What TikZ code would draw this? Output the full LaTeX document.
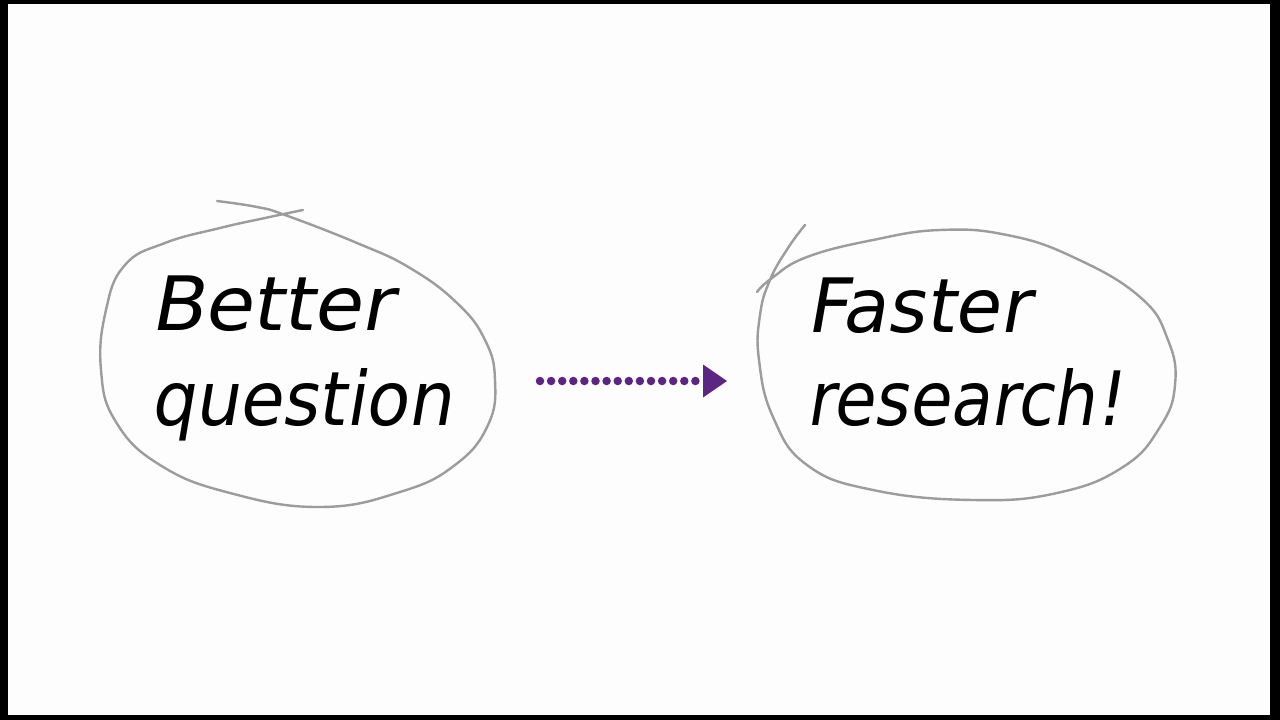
\documentclass[tikz,border=0pt]{standalone}
\usepackage{fontspec}
\usetikzlibrary{arrows.meta}
\newfontfamily\hand[FakeSlant=0.18]{DejaVu Sans}
\definecolor{bgc}{HTML}{FDFDFD}
\definecolor{loopc}{HTML}{9C9C9C}
\definecolor{arrc}{HTML}{5C2483}
\tikzset{
  loopline/.style={draw=loopc, line width=2.4pt, line cap=round, line join=round},
  handtext/.style={anchor=base west, inner sep=0pt, font=\hand\fontsize{75}{80}\selectfont},
  dotarrow/.style={draw=arrc, line width=8.5pt, line cap=round, dash pattern=on 0pt off 11.1pt,
    -{Triangle[length=24pt,width=33pt,fill=arrc,line width=0pt]}}
}
\begin{document}
\begin{tikzpicture}[x=1pt,y=-1pt]
\useasboundingbox (0,0) rectangle (1280,720);
\fill[black] (0,0) rectangle (1280,720);
\fill[bgc] (8,4) rectangle (1270,715);
% left loop
\draw[loopline] plot[smooth, tension=0.75] coordinates {(217,201) (257,207) (285,215) (357,243) (410,268) (457,303) (485,340) (495,380) (488,425) (455,465) (400,492) (320,507) (230,493) (160,465) (116,422) (101,370) (106,310) (125,265) (165,243) (220,228) (265,218) (303,210)};
% right loop
\draw[loopline] plot[smooth, tension=0.75] coordinates {(805,225) (788,248) (770,280) (760,315) (759,360) (773,417) (807,465) (873,490) (973,500) (1057,493) (1123,467) (1160,427) (1175,385) (1168,340) (1140,297) (1073,257) (1007,235) (940,230) (873,240) (807,257) (772,278) (757,292)};
% texts
\node[handtext] (better) at (150,330) {\scalebox{1.04}[1]{Better}};
\node[handtext] (question) at (150,425) {\scalebox{0.93}[1]{question}};
\node[handtext] (faster) at (806,332) {\scalebox{0.98}[1]{Faster}};
\node[handtext] (research) at (806,425) {\scalebox{0.89}[1]{research!}};
% arrow
\coordinate (as) at (540,381);
\coordinate (ae) at (727,381);
\draw[dotarrow] (as) -- (ae);
\end{tikzpicture}
\end{document}
